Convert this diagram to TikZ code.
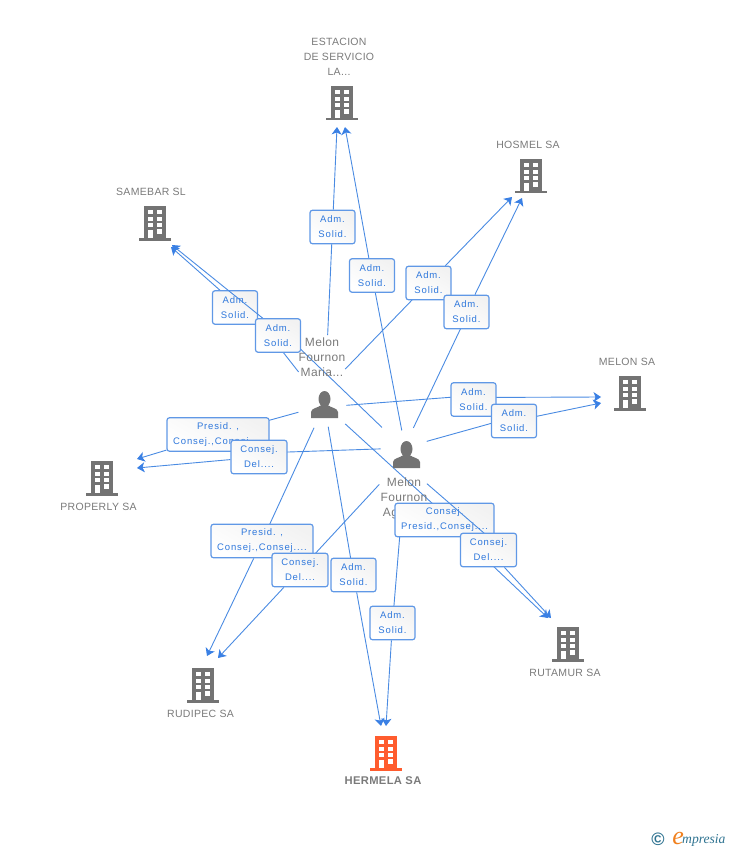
\documentclass[tikz,border=0pt]{standalone}
\usepackage{fontspec}
\setmainfont{Liberation Sans}
\newfontfamily\boxfont[LetterSpace=9]{Liberation Sans}
\newfontfamily\tagfont[LetterSpace=3]{Liberation Sans}
\newfontfamily\logofont{Liberation Serif}
\usetikzlibrary{arrows.meta}
\pgfdeclarelayer{background}
\pgfdeclarelayer{top}
\pgfsetlayers{background,main,top}
\definecolor{linkblue}{HTML}{4A8BE2}
\definecolor{tipblue}{HTML}{3A80E4}
\definecolor{boxline}{HTML}{6098E6}
\definecolor{boxtext}{HTML}{2F78DC}
\definecolor{iconcol}{HTML}{737373}
\definecolor{redcol}{HTML}{FF5C2E}
\definecolor{tagcol}{HTML}{7A7A7A}
\definecolor{logoteal}{HTML}{2F7391}
\definecolor{logoorg}{HTML}{F0801E}
\tikzset{
  link/.style={draw=linkblue, line width=0.9pt},
  linkto/.style={link, -{Stealth[length=7.5pt,width=10pt,inset=2pt,color=tipblue]}},
  tag/.style={align=center, inner sep=0pt, text=tagcol, font=\tagfont\fontsize{10.5}{15}\selectfont},
  pertag/.style={align=center, inner sep=0pt, text=tagcol, font=\tagfont\fontsize{12}{15}\selectfont},
  rolebox/.style={draw=boxline, line width=1.2pt, rounded corners=2.5pt, align=center,
    top color=black!5, bottom color=white, shading angle=-30, inner sep=0pt,
    minimum width=45pt, minimum height=33.5pt, text=boxtext,
    execute at begin node={\rule{0pt}{12pt}},
    font=\boxfont\fontsize{9.5}{15}\selectfont},
  bldg/.pic={
    \fill[pic actions] (-11,-17) rectangle (11,15);
    \fill[pic actions] (-16,15) rectangle (16,17.5);
    \foreach \wy in {-13,-6,0} {
      \fill[white] (-7,\wy) rectangle (-2.5,{\wy+4});
      \fill[white] (2,\wy) rectangle (7,{\wy+4});
    }
    \fill[white] (-7,7) rectangle (-2.5,15);
    \fill[white] (2,6) rectangle (7,11);
  },
  person/.pic={
    \fill[iconcol] (0,-6) ellipse (6 and 8);
    \fill[iconcol] (-13.5,13) -- (-13.5,7) .. controls (-13,3) and (-7,3) .. (-3,0)
      -- (3,0) .. controls (7,3) and (13,3) .. (13.5,7) -- (13.5,13) -- cycle;
  }
}
\begin{document}
\begin{tikzpicture}[x=1pt,y=-1pt]
\useasboundingbox (0,0) rectangle (728,850);
% people
\pic at (324.5,405) {person};
\pic at (406.5,455) {person};
\node[inner sep=0pt, minimum size=27pt] (perM) at (324.5,405) {};
\node[inner sep=0pt, minimum size=27pt] (perA) at (406.5,455) {};
\node[pertag] (tagM) at (322,357) {Melon\\Fournon\\Maria...};
\node[pertag] (tagA) at (404,498) {Melon\\Fournon\\Agustin};
% companies
\pic[fill=iconcol] at (342,103) {bldg};
\pic[fill=iconcol] at (531,176) {bldg};
\pic[fill=iconcol] at (155,223) {bldg};
\pic[fill=iconcol] at (630,393) {bldg};
\pic[fill=iconcol] at (102,478) {bldg};
\pic[fill=iconcol] at (568,644) {bldg};
\pic[fill=iconcol] at (203,685) {bldg};
\pic[fill=redcol] at (386,753) {bldg};
\node[tag] (estacion) at (339,57) {ESTACION\\DE SERVICIO\\LA...};
\node[tag] (hosmel) at (528,145) {HOSMEL SA};
\node[tag] (samebar) at (151,192) {SAMEBAR SL};
\node[tag] (melon) at (627,362) {MELON SA};
\node[tag] (properly) at (98.5,507) {PROPERLY SA};
\node[tag] (rutamur) at (565,673) {RUTAMUR SA};
\node[tag] (rudipec) at (200.5,714) {RUDIPEC SA};
\node[tag, font=\tagfont\bfseries\fontsize{11.2}{15}\selectfont] (hermela) at (383,781) {HERMELA SA};
% arrow ends
\coordinate (tipEst1) at (337,127);
\coordinate (tipEst2) at (345,127);
\coordinate (tipHos1) at (512,197);
\coordinate (tipHos2) at (522,198);
\coordinate (tipSam1) at (171,247);
\coordinate (tipSam2) at (172,245);
\coordinate (tipMel1) at (601,397);
\coordinate (tipMel2) at (601,403);
\coordinate (tipPro1) at (137,459);
\coordinate (tipPro2) at (137,468);
\coordinate (tipRut1) at (548,618);
\coordinate (tipRut2) at (551,618);
\coordinate (tipRud1) at (207,656);
\coordinate (tipRud2) at (218,658);
\coordinate (tipHer1) at (381,726);
\coordinate (tipHer2) at (386,726);
% role boxes
\node[rolebox] (r1) at (332.5,227) {Adm.\\Solid.};
\node[rolebox] (r2) at (372,275.5) {Adm.\\Solid.};
\node[rolebox] (r3) at (428.5,283) {Adm.\\Solid.};
\node[rolebox] (r4) at (466.5,312) {Adm.\\Solid.};
\node[rolebox] (r5) at (235,307.5) {Adm.\\Solid.};
\node[rolebox] (r7) at (473.5,399.5) {Adm.\\Solid.};
\node[rolebox] (r8) at (514,421) {Adm.\\Solid.};
\node[rolebox, minimum width=102pt] (r9) at (218,434.5) {Presid. ,\\Consej.,Consej....};
\node[rolebox, minimum width=56pt] (r10) at (259,457) {Consej.\\Del....};
\node[rolebox, minimum width=102pt] (r11) at (262,541) {Presid. ,\\Consej.,Consej....};
\node[rolebox, minimum width=56pt] (r12) at (300,570) {Consej.\\Del....};
\node[rolebox] (r13) at (353.5,575) {Adm.\\Solid.};
\node[rolebox] (r14) at (392.5,623) {Adm.\\Solid.};
\node[rolebox, minimum width=99pt] (r15) at (444.5,520) {Consej.\\Presid.,Consej....};
\begin{pgfonlayer}{top}
\node[rolebox] (r6) at (278,335.5) {Adm.\\Solid.};
\node[rolebox, minimum width=56pt] (r16) at (488.5,550) {Consej.\\Del....};
\end{pgfonlayer}
% connectors
\begin{pgfonlayer}{background}
\draw[link, shorten <=70pt] (perM.center) -- (r1.center);
\draw[linkto] (r1) -- (tipEst1);
\draw[link, shorten <=25pt] (perA.center) -- (r2.center);
\draw[linkto] (r2) -- (tipEst2);
\draw[link, shorten <=50pt] ([xshift=-14pt]perM.center) -- (r3.center);
\draw[linkto] (r3) -- (tipHos1);
\draw[link, shorten <=30pt] ([xshift=-6pt]perA.center) -- ([xshift=2pt]r4.center);
\draw[linkto] (r4) -- (tipHos2);
\draw[link, shorten <=42pt] (perM.center) -- ([xshift=13pt]r5.center);
\draw[linkto] ([yshift=4pt]r5.center) -- (tipSam1);
\draw[link, shorten <=34pt] ([yshift=4pt]perA.center) -- ([yshift=8pt]r6.center);
\draw[link, shorten <=22pt] ([yshift=-2pt]perM.center) -- ([yshift=4pt]r7.center);
\draw[linkto] ([yshift=2pt]r7.center) -- (tipMel1);
\draw[link, shorten <=21pt] ([yshift=8pt]perA.center) -- ([yshift=4pt]r8.center);
\draw[linkto] (r8) -- (tipMel2);
\draw[link, shorten <=27pt] (perM.center) -- (r9.center);
\draw[linkto] (r9) -- (tipPro1);
\draw[link, shorten <=26pt] ([yshift=7pt]perA.center) -- ([yshift=4pt]r10.center);
\draw[linkto] (r10) -- (tipPro2);
\draw[link, shorten <=25pt] (perM.center) -- (r11.center);
\draw[linkto] (r11) -- (tipRud1);
\draw[link, shorten <=40pt] (perA.center) -- (r12.center);
\draw[linkto] (r12) -- (tipRud2);
\draw[link, shorten <=22pt] (perM.center) -- (r13.center);
\draw[linkto] (r13) -- (tipHer1);
\draw[link, shorten <=60pt] (perA.center) -- (r14.center);
\draw[linkto] (r14) -- (tipHer2);
\draw[link, shorten <=28pt] (perM.center) -- ([xshift=6pt]r15.center);
\draw[linkto] (r15) -- (tipRut1);
\draw[linkto] (r16) -- (tipRut2);
\end{pgfonlayer}
% these two run over the boxes drawn before them
\draw[linkto] ([yshift=5pt]r6.center) -- (tipSam2);
\draw[link, shorten <=27pt] ([yshift=-11pt]perA.center) -- ([yshift=13pt]r16.center);
% logo
\node[inner sep=0pt, text=logoteal, font=\bfseries\fontsize{18}{18}\selectfont] (logoC) at (658,839) {\textcopyright};
\node[inner sep=0pt, anchor=base west, text=logoteal, font=\logofont\itshape\fontsize{13.6}{13.6}\selectfont] (logoT) at (682,843.5) {mpresia};
\node[inner sep=0pt, anchor=base east, text=logoorg, font=\logofont\itshape\fontsize{26}{26}\selectfont] (logoE) at (684,844) {e};
\end{tikzpicture}
\end{document}
